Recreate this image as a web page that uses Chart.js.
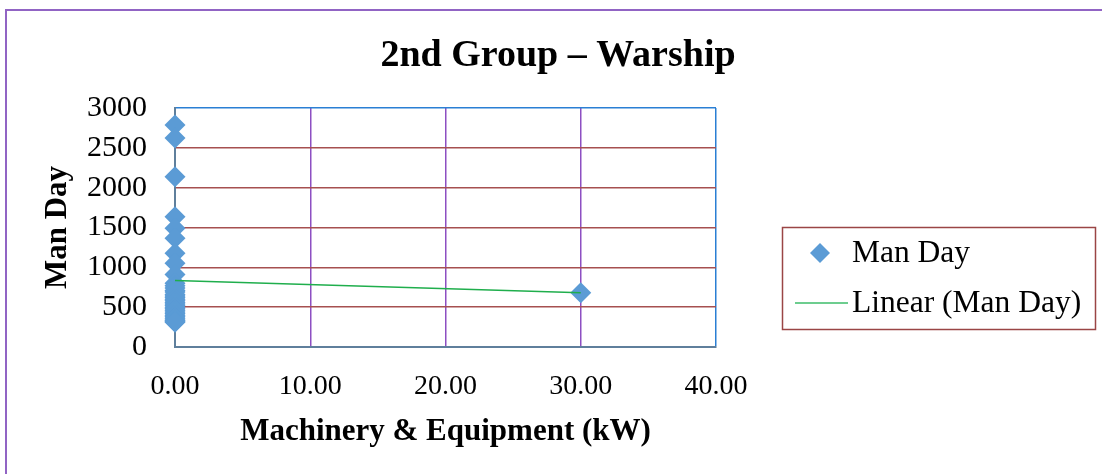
<!DOCTYPE html>
<html>
<head>
<meta charset="utf-8">
<script src="https://cdn.jsdelivr.net/npm/chart.js@4"></script>
<style>
  html, body { margin: 0; padding: 0; background: #fff; }
  #wrap { position: relative; width: 1102px; height: 474px; }
  #frame { position: absolute; left: 5px; top: 9px; right: -4px; bottom: -4px; border-left: 2px solid #9164c4; border-top: 2px solid #9164c4; }
  canvas { position: absolute; left: 0; top: 0; }
</style>
</head>
<body>
<div id="wrap">
  <div id="frame"></div>
  <canvas id="chart" width="1102" height="474"></canvas>
</div>
<script>
// Machinery & Equipment (kW) vs Man Day
const kwValues = [
    0, 0, 0, 0, 0, 0, 0, 0, 0,
    0, 0, 0, 0, 0, 0, 0, 0, 0, 0, 0, 0, 0, 0, 0, 0, 0, 0, 0, 0, 0, 0, 0, 0, 0,
    30
];
const manDays = [
    2786, 2623, 2138, 1636, 1490, 1364, 1176, 1051, 910,
    800, 770, 740, 710, 690, 660, 640, 620, 600, 580, 560, 540, 520, 500, 480, 460, 440, 420, 400, 380, 360, 340, 330, 320, 310,
    680
];
const xTicks = [0, 10, 20, 30, 40];
const yTicks = [0, 500, 1000, 1500, 2000, 2500, 3000];

const serif = "'Liberation Serif', 'Times New Roman', serif";
const points = kwValues.map((x, i) => ({ x, y: manDays[i] }));

// least squares trend over the data x range
const n = points.length;
const mx = kwValues.reduce((a, b) => a + b, 0) / n;
const my = manDays.reduce((a, b) => a + b, 0) / n;
let sxy = 0, sxx = 0;
points.forEach(p => { sxy += (p.x - mx) * (p.y - my); sxx += (p.x - mx) * (p.x - mx); });
const slope = sxy / sxx;
const icept = my - slope * mx;
const xMin = Math.min(...kwValues), xMax = Math.max(...kwValues);
const trend = [{ x: xMin, y: icept + slope * xMin }, { x: xMax, y: icept + slope * xMax }];

const decor = {
    id: 'decor',
    afterDraw(chart) {
        const ctx = chart.ctx;
        ctx.save();
        ctx.fillStyle = '#000';
        ctx.font = 'bold 38px ' + serif;
        ctx.textAlign = 'center';
        ctx.textBaseline = 'middle';
        ctx.fillText('2nd Group \u2013 Warship', 558, 56);

        // legend
        ctx.strokeStyle = '#9a4545';
        ctx.lineWidth = 1.5;
        ctx.strokeRect(782.5, 227.5, 313, 102);
        ctx.fillStyle = '#5b9bd5';
        ctx.beginPath();
        ctx.moveTo(820, 243); ctx.lineTo(830, 253); ctx.lineTo(820, 263); ctx.lineTo(810, 253);
        ctx.closePath(); ctx.fill();
        ctx.strokeStyle = '#3dbd6a';
        ctx.lineWidth = 1.5;
        ctx.beginPath(); ctx.moveTo(795, 303); ctx.lineTo(848, 303); ctx.stroke();
        ctx.fillStyle = '#000';
        ctx.font = '31.5px ' + serif;
        ctx.textAlign = 'left';
        ctx.fillText('Man Day', 852, 254);
        ctx.fillText('Linear (Man Day)', 852, 304);
        ctx.restore();
    }
};

new Chart(document.getElementById('chart'), {
    type: 'scatter',
    data: {
        datasets: [
            {
                label: 'Linear (Man Day)',
                type: 'line',
                data: trend,
                borderColor: '#1fae4c',
                borderWidth: 1.5,
                pointRadius: 0,
                fill: false,
                order: 0
            },
            {
                label: 'Man Day',
                data: points,
                pointStyle: 'rectRot',
                pointRadius: 10.5,
                pointBorderWidth: 0,
                backgroundColor: '#5b9bd5',
                borderColor: '#5b9bd5',
                clip: false,
                order: 1
            }
        ]
    },
    options: {
        responsive: false,
        animation: false,
        events: [],
        layout: { padding: { left: 0, top: 108, right: 386, bottom: 0 } },
        plugins: { legend: { display: false }, title: { display: false }, tooltip: { enabled: false } },
        scales: {
            x: {
                type: 'linear',
                min: 0, max: 40,
                afterFit: s => { s.height = 127; },
                afterBuildTicks: s => { s.ticks = xTicks.map(v => ({ value: v })); },
                grid: {
                    drawTicks: false,
                    lineWidth: 1.5,
                    color: c => c.tick && c.tick.value === 40 ? '#2a7fd4' : '#8d4fc2'
                },
                border: { color: '#5f7f9c', width: 2 },
                ticks: {
                    padding: 23,
                    color: '#000',
                    font: { family: serif, size: 28 },
                    callback: v => Number(v).toFixed(2)
                },
                title: {
                    display: true,
                    text: 'Machinery & Equipment (kW)',
                    color: '#000',
                    font: { family: serif, size: 31, weight: 'bold' },
                    padding: { top: 0, bottom: 23 }
                }
            },
            y: {
                min: 0, max: 3000,
                afterFit: s => { s.width = 175; },
                afterBuildTicks: s => { s.ticks = yTicks.map(v => ({ value: v })); },
                grid: {
                    drawTicks: false,
                    lineWidth: 1.5,
                    color: c => c.tick && c.tick.value === 3000 ? '#2a7fd4' : '#a65050'
                },
                border: { color: '#5f7f9c', width: 2 },
                ticks: {
                    padding: 28,
                    color: '#000',
                    font: { family: serif, size: 30 },
                    callback: v => String(v)
                },
                title: {
                    display: true,
                    text: 'Man Day',
                    color: '#000',
                    font: { family: serif, size: 31, weight: 'bold' },
                    padding: { top: 39, bottom: 0 }
                }
            }
        }
    },
    plugins: [decor]
});
</script>
</body>
</html>
